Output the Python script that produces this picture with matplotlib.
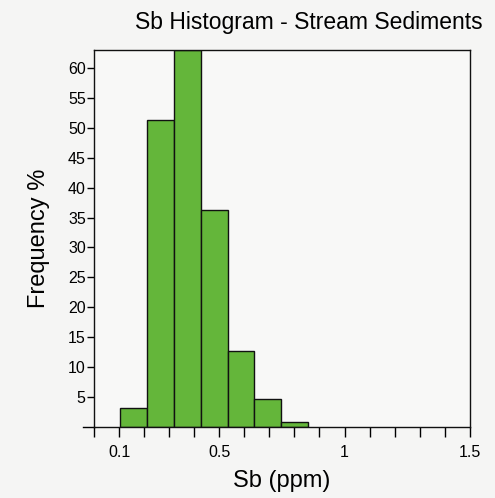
import matplotlib
matplotlib.use("Agg")
import matplotlib.pyplot as plt
import numpy as np

# bin edges (ppm) and frequency (%)
bin_edges = [0.104, 0.211, 0.320, 0.426, 0.536, 0.640, 0.748, 0.856]
freq = [3.2, 51.3, 63.0, 36.3, 12.7, 4.7, 0.8]

x_ticks = [0.0, 0.1, 0.2, 0.3, 0.4, 0.5, 0.6, 0.7, 0.8, 0.9, 1.0,
           1.1, 1.2, 1.3, 1.4, 1.5]
x_labels = {0.1: "0.1", 0.5: "0.5", 1.0: "1", 1.5: "1.5"}
y_ticks = [5, 10, 15, 20, 25, 30, 35, 40, 45, 50, 55, 60]


def main():
    plt.rcParams['font.family'] = ['Liberation Sans', 'DejaVu Sans']
    fig = plt.figure(figsize=(4.95, 4.98), dpi=100, facecolor='#f5f5f4')
    ax = fig.add_axes([0.190, 0.1426, 0.759, 0.757])
    ax.set_facecolor('#f8f8f7')

    lefts = np.array(bin_edges[:-1])
    widths = np.diff(bin_edges)
    ax.bar(lefts, freq, width=widths, align='edge', color='#64b63a',
           edgecolor='#111111', linewidth=1.0)

    ax.set_xlim(0, 1.5)
    ax.set_ylim(0, 63)
    ax.set_xticks(x_ticks)
    ax.set_xticklabels([x_labels.get(round(t, 1), "") for t in x_ticks],
                       fontsize=11.5)
    ax.set_yticks(y_ticks)
    ax.set_yticklabels([str(t) for t in y_ticks], fontsize=11.5)
    ax.tick_params(axis='x', direction='out', length=7, width=1, pad=6)
    ax.tick_params(axis='y', direction='out', length=5, width=1, pad=1)
    # unlabeled tick at zero on the y axis
    ax.plot([-0.045, 0], [0, 0], color='black', linewidth=1, clip_on=False)

    for s in ax.spines.values():
        s.set_linewidth(1.0)
        s.set_color('#111111')

    ax.set_xlabel("Sb (ppm)", fontsize=17, labelpad=7)
    ax.set_ylabel("Frequency %", fontsize=17, labelpad=13)
    fig.text(0.624, 0.955, "Sb Histogram - Stream Sediments", fontsize=16.5,
             ha='center', va='center')

    fig.savefig("out.png", dpi=100, facecolor=fig.get_facecolor())


if __name__ == '__main__':
    main()
